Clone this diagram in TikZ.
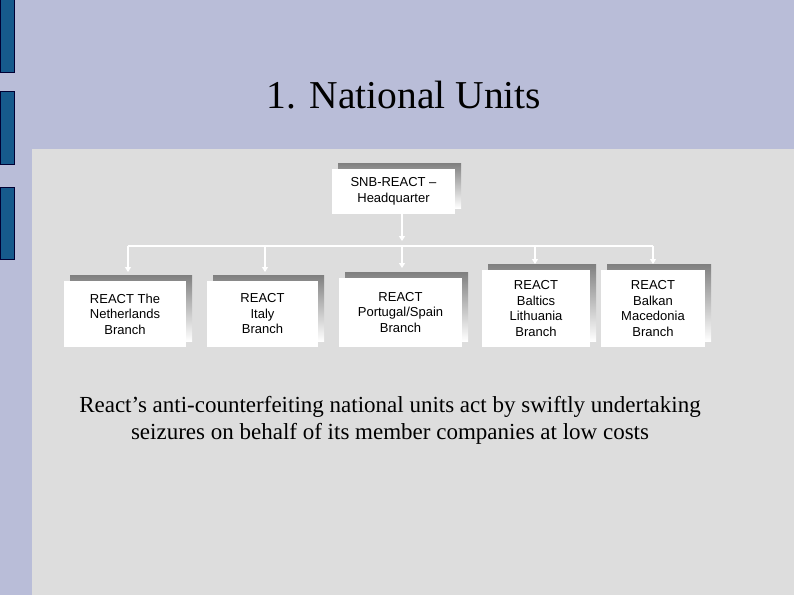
\documentclass[tikz,border=0pt]{standalone}
\usepackage{fontspec}
\setmainfont{Liberation Serif}
\newfontfamily\arialf{Liberation Sans}
\usetikzlibrary{arrows.meta}
\definecolor{bgblue}{RGB}{185,189,216}
\definecolor{panel}{RGB}{221,221,221}
\definecolor{barblue}{RGB}{22,90,140}
\definecolor{shade}{RGB}{128,128,128}
\tikzset{
  bar/.style={fill=barblue,draw=black!80!blue,line width=0.8pt},
  conn/.style={draw=white,line width=2.2pt},
  arr/.style={conn,-{Triangle[width=6pt,length=5pt]}},
  lbl/.style={font=\arialf\fontsize{13}{15.5}\selectfont,align=center,text=black}
}
\newcommand{\orgbox}[6]{% name, x1,y1,x2,y2, text
  \fill[shade] (#2+6,#3-6) rectangle (#4+6,#5-6);
  \fill[white] (#2,#3) rectangle (#4,#5);
  \node[lbl] (#1) at ({(#2+#4)/2},{(#3+#5)/2}) {#6};
}
\begin{document}
\begin{tikzpicture}[x=1pt,y=-1pt]
\fill[bgblue] (0,0) rectangle (794,595);
\useasboundingbox (0,0) rectangle (794,595);
\fill[panel] (32,149) rectangle (794,595);
\draw[bar] (0,-2) rectangle (14,72);
\draw[bar] (0,91) rectangle (14,164);
\draw[bar] (0,187) rectangle (14,259);
\node[font=\fontsize{39.5}{44}\selectfont] (title) at (404,95) {1. National Units};
\orgbox{hq}{332}{169}{455}{214}{SNB-REACT –\\Headquarter}
\orgbox{nl}{64}{281}{186}{347}{REACT The\\Netherlands\\Branch}
\orgbox{it}{207}{281}{318}{347}{REACT\\Italy\\Branch}
\orgbox{ps}{339}{278}{462}{347}{REACT\\Portugal/Spain\\Branch}
\orgbox{ba}{482}{270}{590}{347}{REACT\\Baltics\\Lithuania\\Branch}
\orgbox{bk}{601}{270}{705}{347}{REACT\\Balkan\\Macedonia\\Branch}
\coordinate (hqb) at (402,214);
\coordinate (j) at (402,246);
\coordinate (jl) at (128,246);
\coordinate (jr) at (653,246);
\draw[arr] (hqb) -- (402,241);
\draw[conn] (jl) -- (jr);
\draw[arr] (jl) -- (128,272);
\draw[arr] (265,246) -- (265,272);
\draw[arr] (j) -- (402,268);
\draw[arr] (535,246) -- (535,264);
\draw[arr] (jr) -- (653,264);
\node[font=\fontsize{23}{27}\selectfont,align=center] (txt) at (390,420) {React's anti-counterfeiting national units act by swiftly undertaking\\seizures on behalf of its member companies at low costs};
\end{tikzpicture}
\end{document}
